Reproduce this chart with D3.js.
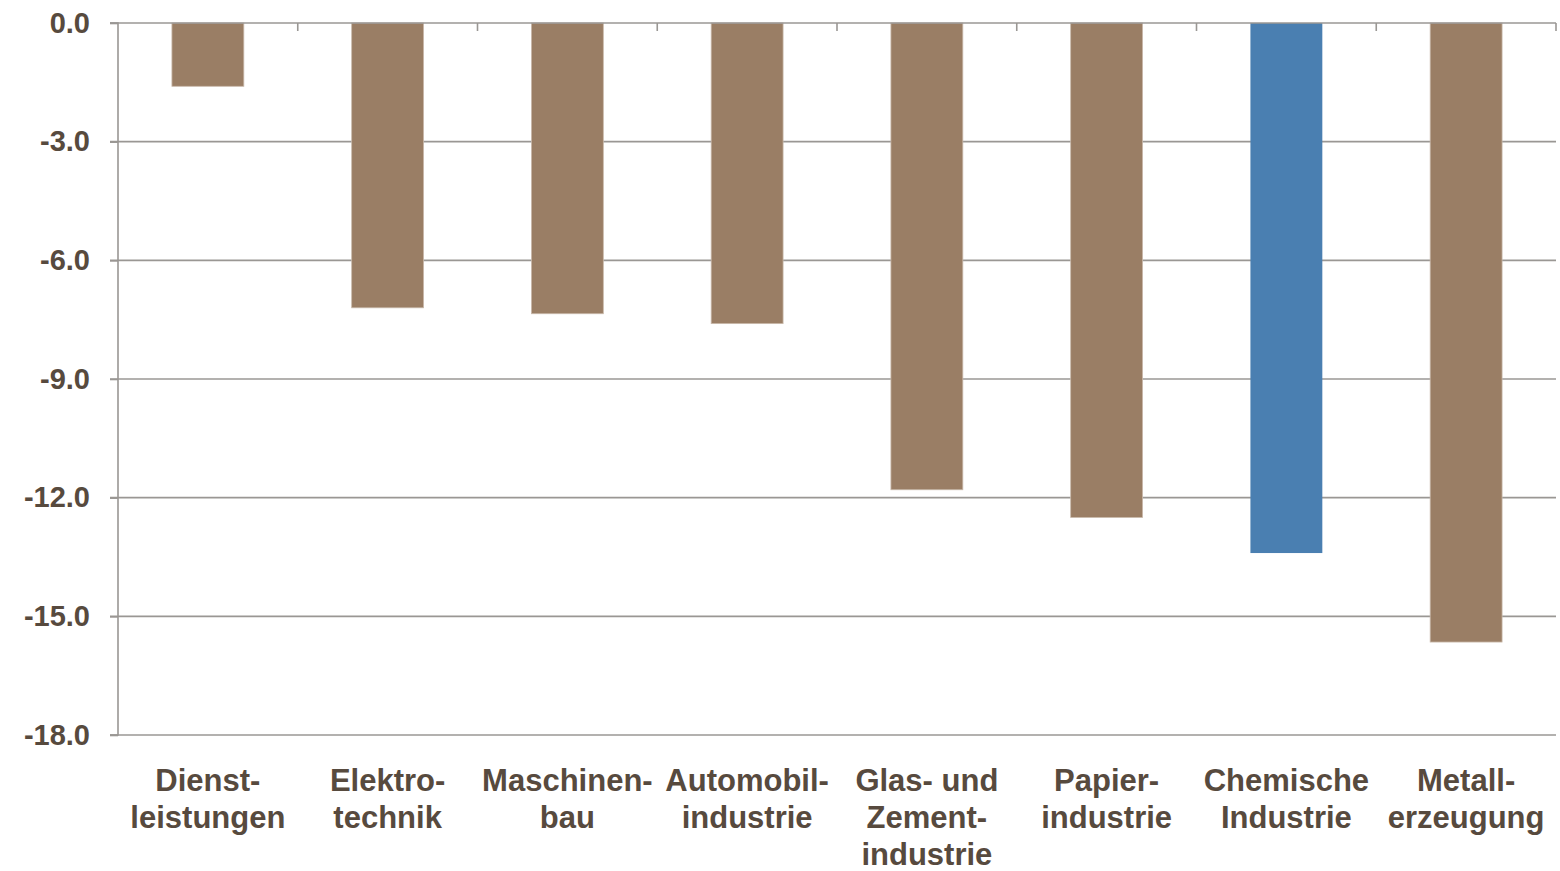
<!DOCTYPE html>
<html>
<head>
<meta charset="utf-8">
<script src="https://cdn.jsdelivr.net/npm/d3@7"></script>
<style>
  body { margin: 0; background: #fff; }
  text { font-family: "Liberation Sans", Arial, sans-serif; font-weight: bold; fill: #574a3e; }
</style>
</head>
<body>
<div id="root"></div>
<script>
var categories = [
    ["Dienst-", "leistungen"],
    ["Elektro-", "technik"],
    ["Maschinen-", "bau"],
    ["Automobil-", "industrie"],
    ["Glas- und", "Zement-", "industrie"],
    ["Papier-", "industrie"],
    ["Chemische", "Industrie"],
    ["Metall-", "erzeugung"]
]
var values = [-1.6, -7.2, -7.35, -7.6, -11.8, -12.5, -13.4, -15.65]
var highlight = [false, false, false, false, false, false, true, false]
var yTicks = [0, -3, -6, -9, -12, -15, -18]

var width = 1560, height = 871
var mLeft = 118, mRight = 1556, mTop = 23, mBottom = 735
var gridColor = '#9a9794'

var svg = d3.select('#root').append('svg')
    .attr('width', width)
    .attr('height', height)

var x = d3.scaleBand()
    .domain(d3.range(categories.length))
    .range([mLeft, mRight])
    .paddingInner(0.6)
    .paddingOuter(0.3)
var xb = d3.scaleBand()
    .domain(d3.range(categories.length))
    .range([mLeft, mRight])
var y = d3.scaleLinear()
    .domain([-18, 0])
    .range([mBottom, mTop])

// gridlines
svg.append('g').selectAll('line')
    .data(yTicks.filter(function (d) { return d !== 0 }))
    .enter().append('line')
    .attr('x1', mLeft - 8).attr('x2', mRight)
    .attr('y1', function (d) { return y(d) })
    .attr('y2', function (d) { return y(d) })
    .attr('stroke', gridColor)
    .attr('stroke-width', 1.6)

// y axis
var yAxis = svg.append('g')
    .attr('transform', 'translate(' + mLeft + ',0)')
    .call(d3.axisLeft(y).tickValues(yTicks).tickSize(8).tickPadding(20)
        .tickFormat(function (d) { return d3.format('.1f')(d).replace('−', '-') }))
yAxis.selectAll('path, line').attr('stroke', gridColor).attr('stroke-width', 1.6)
yAxis.selectAll('text')
    .attr('font-size', 29)
    .attr('font-family', '"Liberation Sans", Arial, sans-serif')
    .attr('font-weight', 'bold')
    .attr('fill', '#574a3e')
yAxis.select('.domain').attr('d', 'M-8,' + mTop + 'H0V' + mBottom + 'H-8')

// bars
svg.append('g').selectAll('rect')
    .data(values)
    .enter().append('rect')
    .attr('x', function (d, i) { return x(i) })
    .attr('width', x.bandwidth())
    .attr('y', y(0))
    .attr('height', function (d) { return y(d) - y(0) })
    .attr('fill', function (d, i) { return highlight[i] ? '#4a7fb1' : '#9a7e65' })
    .attr('stroke', function (d, i) { return highlight[i] ? 'none' : '#c9b9aa' })
    .attr('stroke-width', 0.8)

// x axis line at 0 with ticks pointing down
svg.append('line')
    .attr('x1', mLeft - 8).attr('x2', mRight)
    .attr('y1', y(0)).attr('y2', y(0))
    .attr('stroke', gridColor)
    .attr('stroke-width', 1.6)
svg.append('g').selectAll('line')
    .data(d3.range(1, categories.length + 1))
    .enter().append('line')
    .attr('x1', function (d) { return mLeft + d * xb.bandwidth() })
    .attr('x2', function (d) { return mLeft + d * xb.bandwidth() })
    .attr('y1', y(0)).attr('y2', y(0) + 8)
    .attr('stroke', gridColor)
    .attr('stroke-width', 1.6)

// category labels
var labels = svg.append('g').selectAll('text')
    .data(categories)
    .enter().append('text')
    .attr('text-anchor', 'middle')
    .attr('font-size', 31)
    .attr('x', function (d, i) { return xb(i) + xb.bandwidth() / 2 })
    .attr('y', 791)
labels.selectAll('tspan')
    .data(function (d) { return d })
    .enter().append('tspan')
    .attr('x', function () { return d3.select(this.parentNode).attr('x') })
    .attr('dy', function (d, i) { return i === 0 ? 0 : 37 })
    .text(function (d) { return d })
</script>
</body>
</html>
